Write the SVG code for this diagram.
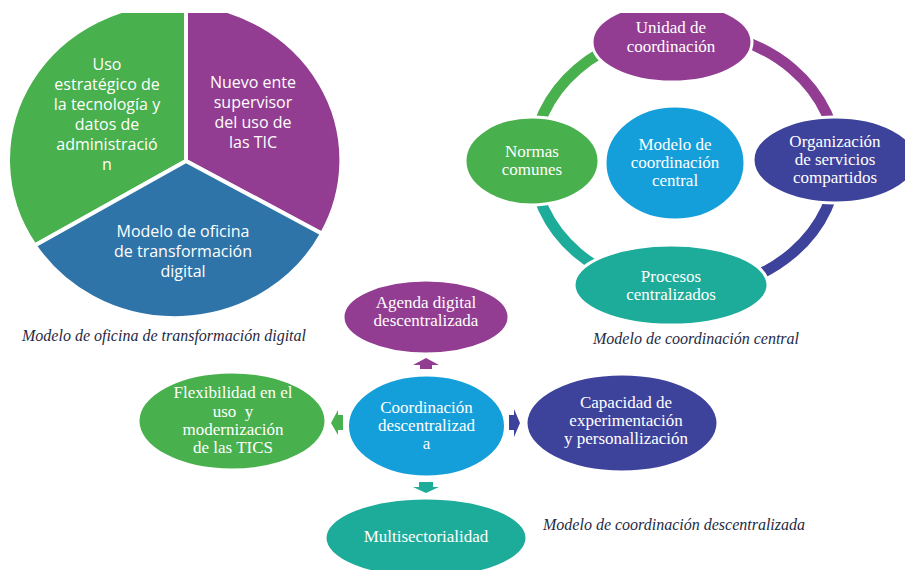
<svg xmlns="http://www.w3.org/2000/svg" width="905" height="570" viewBox="0 0 905 570">
<style>
.pt{font-family:"Open Sans","Liberation Sans",sans-serif;font-size:16px;fill:#fff;text-anchor:middle}
.st{font-family:"Liberation Serif","Times New Roman",serif;font-size:17px;fill:#fff;text-anchor:middle}
.cap{font-family:"Liberation Serif","Times New Roman",serif;font-style:italic;font-size:16px;fill:#1f2a44}
.slice{stroke:#fff;stroke-width:4;stroke-linejoin:miter}
.node{stroke:#fff;stroke-width:3}
.ring{fill:none;stroke-width:11}
.green{fill:#48b04c}.purple{fill:#923d92}.pblue{fill:#2e74a9}.cblue{fill:#149fda}.dblue{fill:#3d429b}.teal{fill:#1dac9a}
</style>
<defs>
<clipPath id="topcut"><rect x="0" y="13" width="905" height="557"/></clipPath>
</defs>
<rect width="905" height="570" fill="#fff"/>

<!-- Pie diagram -->
<g id="pie" clip-path="url(#topcut)">
<g id="pie-green">
<path class="slice green" d="M186,161 L186,3.4 A166,157 0 0 0 34.8,245.5 Z"/>
<text class="pt" x="107" y="70">Uso</text>
<text class="pt" x="107" y="90">estratégico de</text>
<text class="pt" x="107" y="110">la tecnología y</text>
<text class="pt" x="107" y="130">datos de</text>
<text class="pt" x="107" y="150">administració</text>
<text class="pt" x="107" y="170">n</text>
</g>
<g id="pie-purple">
<path class="slice purple" d="M186,161 L186,3.4 A166,157 0 0 1 322,233.7 Z"/>
<text class="pt" x="253" y="88">Nuevo ente</text>
<text class="pt" x="253" y="108">supervisor</text>
<text class="pt" x="253" y="128">del uso de</text>
<text class="pt" x="253" y="148">las TIC</text>
</g>
<g id="pie-blue">
<path class="slice pblue" d="M186,161 L322,233.7 A166,157 0 0 1 34.8,245.5 Z"/>
<text class="pt" x="183" y="237">Modelo de oficina</text>
<text class="pt" x="183" y="257">de transformación</text>
<text class="pt" x="183" y="277">digital</text>
</g>
</g>
<text id="cap1" class="cap" x="22" y="341">Modelo de oficina de transformación digital</text>

<!-- Central coordination cycle -->
<g id="ring">
<path class="ring" stroke="#48b04c" d="M533,161 A152,130 0 0 1 685,31"/>
<path class="ring" stroke="#923d92" d="M685,31 A152,130 0 0 1 837,161"/>
<path class="ring" stroke="#3d429b" d="M837,161 A152,130 0 0 1 685,291"/>
<path class="ring" stroke="#1dac9a" d="M685,291 A152,130 0 0 1 533,161"/>
</g>
<g id="unidad" clip-path="url(#topcut)">
<ellipse class="node purple" cx="672" cy="42" rx="80" ry="40"/>
<text class="st" x="671" y="33">Unidad de</text>
<text class="st" x="671" y="52">coordinación</text>
</g>
<g id="organizacion">
<ellipse class="node dblue" cx="835" cy="160" rx="82" ry="43"/>
<text class="st" x="835" y="147">Organización</text>
<text class="st" x="835" y="165">de servicios</text>
<text class="st" x="835" y="183">compartidos</text>
</g>
<g id="procesos">
<ellipse class="node teal" cx="671" cy="285" rx="97" ry="40"/>
<text class="st" x="671" y="282">Procesos</text>
<text class="st" x="671" y="300">centralizados</text>
</g>
<g id="normas">
<ellipse class="node green" cx="532" cy="161" rx="67" ry="44"/>
<text class="st" x="532" y="157">Normas</text>
<text class="st" x="532" y="175">comunes</text>
</g>
<g id="centro">
<ellipse class="node cblue" cx="675" cy="163" rx="70" ry="57"/>
<text class="st" x="675" y="150">Modelo de</text>
<text class="st" x="675" y="168">coordinación</text>
<text class="st" x="675" y="186">central</text>
</g>
<text id="cap2" class="cap" x="593" y="344">Modelo de coordinación central</text>

<!-- Decentralized coordination -->
<g id="connectors">
<polygon class="purple" points="426,358 439,365 432,365 432,369 420,369 420,365 413,365"/>
<polygon class="teal" points="426,493 439,487 433,487 433,482 419,482 419,487 413,487"/>
<polygon class="green" points="331,423 338,410 338,415 343,415 343,430 338,430 338,435"/>
<polygon class="dblue" points="520,423 514,409 514,415 509,415 509,430 514,430 514,437"/>
</g>
<g id="agenda">
<ellipse class="node purple" cx="426" cy="317" rx="83" ry="37"/>
<text class="st" x="426" y="308">Agenda digital</text>
<text class="st" x="426" y="326">descentralizada</text>
</g>
<g id="coordinacion">
<ellipse class="node cblue" cx="426.5" cy="426" rx="79" ry="51"/>
<text class="st" x="426.5" y="413">Coordinación</text>
<text class="st" x="426.5" y="431">descentralizad</text>
<text class="st" x="426.5" y="449">a</text>
</g>
<g id="flexibilidad">
<ellipse class="node green" cx="232" cy="421" rx="94" ry="49"/>
<text class="st" x="233" y="398">Flexibilidad en el</text>
<text class="st" x="233" y="417" xml:space="preserve">uso  y</text>
<text class="st" x="233" y="435">modernización</text>
<text class="st" x="233" y="453">de las TICS</text>
</g>
<g id="capacidad">
<ellipse class="node dblue" cx="622" cy="423" rx="96" ry="49"/>
<text class="st" x="626" y="408">Capacidad de</text>
<text class="st" x="626" y="426">experimentación</text>
<text class="st" x="626" y="444">y personallización</text>
</g>
<g id="multisectorialidad">
<ellipse class="node teal" cx="426" cy="538" rx="101" ry="40"/>
<text class="st" x="426" y="542">Multisectorialidad</text>
</g>
<text id="cap3" class="cap" x="543" y="530">Modelo de coordinación descentralizada</text>
</svg>
